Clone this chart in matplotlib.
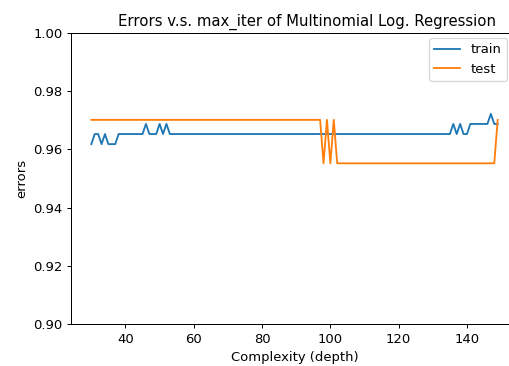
import numpy as np
import matplotlib
matplotlib.use("Agg")
import matplotlib.pyplot as plt

# complexity values (x)
depth = list(range(30, 150))

# train accuracy levels
L, M, H, P = 277/288, 278/288, 279/288, 280/288
train_special = {30: L, 31: M, 32: M, 33: L, 34: M, 35: L, 36: L, 37: L,
                 46: H, 50: H, 52: H,
                 136: H, 138: H,
                 141: H, 142: H, 143: H, 144: H, 145: H, 146: H, 147: P, 148: H, 149: H}
train = [train_special.get(d, M) for d in depth]

# test accuracy levels
TH, TL = 65/67, 64/67
test_special = {98: TL, 99: TH, 100: TL, 101: TH}
test = [test_special.get(d, TH if d <= 97 or d == 149 else TL) for d in depth]

DPI = 89
plt.rcParams["font.size"] = 10.6
fig = plt.figure(figsize=(509/DPI, 366/DPI), dpi=DPI)
ax = fig.add_axes([71/509, 42/366, (518-71)/509, 291/366])
ax.plot(depth, train, label="train")
ax.plot(depth, test, label="test")
ax.set_ylim(0.90, 1.00)
ax.set_title("Errors v.s. max_iter of Multinomial Log. Regression", fontsize=12, x=0.527)
ax.set_xlabel("Complexity (depth)")
ax.set_ylabel("errors")
ax.legend(loc="upper right", bbox_to_anchor=(507/509, 1 - 38/366),
          bbox_transform=fig.transFigure, borderaxespad=0)
fig.savefig("out.png", dpi=DPI)
